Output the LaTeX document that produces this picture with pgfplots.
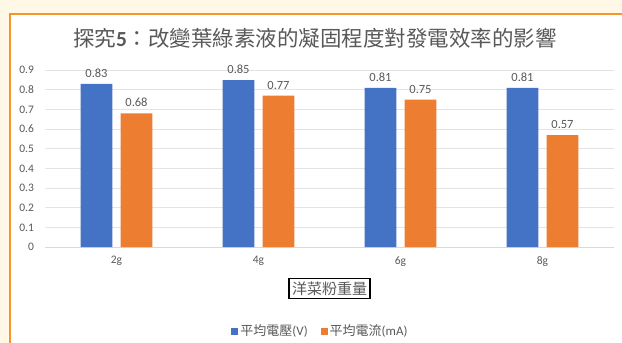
\documentclass[border=0pt]{standalone}
\usepackage{pgfplots}
\pgfplotsset{compat=1.18}
\usepackage{fontspec}
\setmainfont{Carlito}
\newfontfamily\cjk{Noto Sans CJK TC}
\definecolor{cream}{HTML}{FFF8E6}
\definecolor{frame}{HTML}{F5962A}
\definecolor{txt}{HTML}{595959}
\definecolor{barblue}{HTML}{4472C4}
\definecolor{barorange}{HTML}{ED7D31}
\begin{document}
\begin{tikzpicture}
\useasboundingbox (0pt,0pt) rectangle (622pt,343pt);
\fill[cream] (0pt,0pt) rectangle (622pt,343pt);
\fill[white] (10pt,0pt) rectangle (622pt,329pt);
\draw[frame, line width=2pt] (10pt,0pt) -- (10pt,329pt) -- (622pt,329pt);
\node[text=txt, font=\fontsize{21.5}{24}\selectfont] at (315pt,305pt)
  {{\cjk 探究}\textbf{5}{\cjk ：改變葉綠素液的凝固程度對發電效率的影響}};
\begin{axis}[
  at={(45.5pt,96pt)}, anchor=south west,
  scale only axis, width=568pt, height=176.8pt,
  xmin=-0.5, xmax=3.5, ymin=0, ymax=0.9,
  ybar=8.4pt, bar width=31.6pt,
  xtick={0,1,2,3}, xticklabels={2g,4g,6g,8g},
  ytick={0,0.1,0.2,0.3,0.4,0.5,0.6,0.7,0.8,0.9},
  yticklabel style={/pgf/number format/fixed, /pgf/number format/precision=1, xshift=-8pt},
  xticklabel style={yshift=-6pt},
  /pgf/number format/assume math mode=true,
  ticklabel style={text=txt, font=\fontsize{11.5}{13}\selectfont},
  major tick length=0pt,
  axis x line*=bottom, axis y line*=left,
  x axis line style={draw=gray!30, line width=0.8pt},
  y axis line style={draw=none},
  ymajorgrids, grid style={draw=gray!22, line width=0.8pt},
  clip=false,
  nodes near coords,
  nodes near coords style={text=txt, font=\fontsize{12.5}{14}\selectfont, yshift=3pt,
     /pgf/number format/fixed, /pgf/number format/precision=2, /pgf/number format/fixed zerofill},
  xlabel={{\cjk 洋菜粉重量}},
  xlabel style={at={(axis description cs:0.5,0)}, anchor=center, yshift=-41.5pt,
     draw=black, line width=1.3pt, inner sep=3pt, text=txt, font=\fontsize{15}{17}\selectfont},
  legend columns=2,
  legend style={at={(axis description cs:0.5,0)}, anchor=center, yshift=-84pt, xshift=-9pt,
     draw=none, fill=none, font=\fontsize{13}{15}\selectfont, text=txt,
     /tikz/every even column/.append style={column sep=11pt}},
  legend image code/.code={\fill[#1] (0pt,-3.5pt) rectangle (7pt,3.5pt);},
]
\addplot[fill=barblue, draw=none] coordinates {(0,0.83) (1,0.85) (2,0.81) (3,0.81)};
\addplot[fill=barorange, draw=none] coordinates {(0,0.68) (1,0.77) (2,0.75) (3,0.57)};
\legend{{\cjk 平均電壓}(V), {\cjk 平均電流}(mA)}
\end{axis}
\end{tikzpicture}
\end{document}
